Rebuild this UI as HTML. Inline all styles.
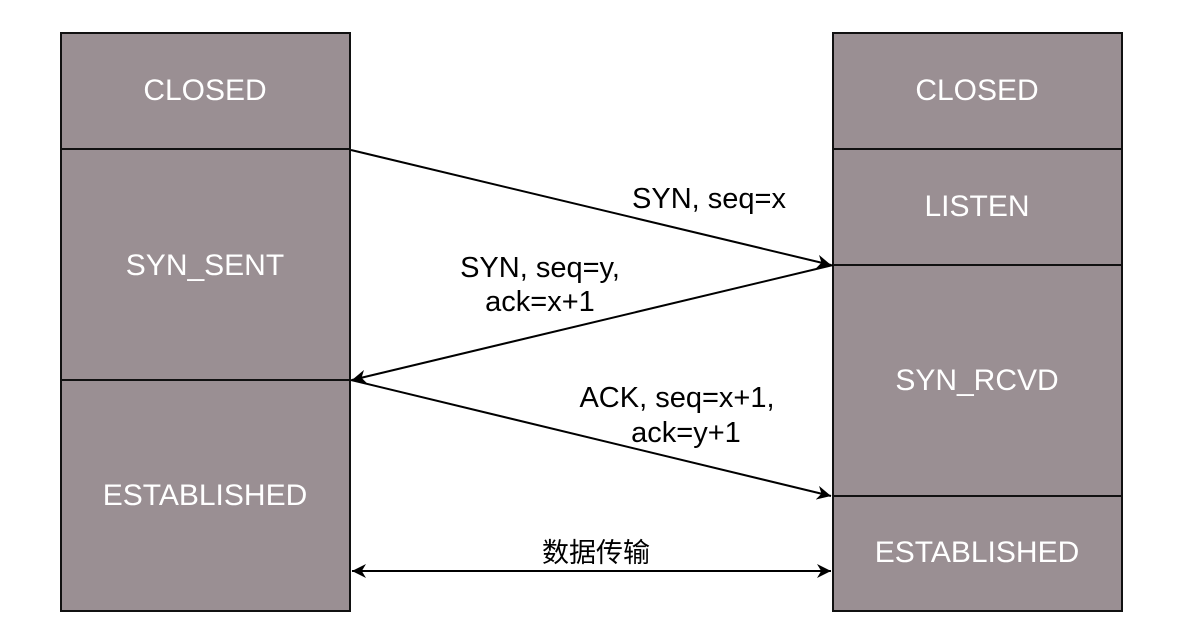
<html><body style="margin:0;background:#fff">
<svg width="1200" height="630" xmlns="http://www.w3.org/2000/svg" font-family="Liberation Sans, Noto Sans CJK SC, sans-serif">
<defs><marker id="a" viewBox="0 0 10 10" refX="10" refY="5" markerWidth="14" markerHeight="14" markerUnits="userSpaceOnUse" orient="auto-start-reverse"><path d="M0,0 L10,5 L0,10 L3,5 z" fill="#000"/></marker></defs>
<g fill="#9a8f93" stroke="#111" stroke-width="2">
<rect x="61" y="33" width="289" height="116"/><rect x="61" y="149" width="289" height="231"/><rect x="61" y="380" width="289" height="231"/>
<rect x="833" y="33" width="289" height="116"/><rect x="833" y="149" width="289" height="116"/><rect x="833" y="265" width="289" height="231"/><rect x="833" y="496" width="289" height="115"/>
</g>
<g fill="#fff" font-size="30" text-anchor="middle">
<text x="205" y="100">CLOSED</text><text x="205" y="275">SYN_SENT</text><text x="205" y="505">ESTABLISHED</text>
<text x="977" y="100">CLOSED</text><text x="977" y="216">LISTEN</text><text x="977" y="390">SYN_RCVD</text><text x="977" y="562">ESTABLISHED</text>
</g>
<g stroke="#000" stroke-width="2" fill="none">
<line x1="351" y1="150" x2="831" y2="265" marker-end="url(#a)"/>
<line x1="833" y1="265" x2="352" y2="380" marker-end="url(#a)"/>
<line x1="351" y1="380" x2="831" y2="496" marker-end="url(#a)"/>
<line x1="352" y1="571" x2="831" y2="571" marker-end="url(#a)" marker-start="url(#a)"/>
</g>
<g fill="#000" font-size="29" text-anchor="middle">
<text x="709" y="208">SYN, seq=x</text>
<text x="540" y="277">SYN, seq=y,</text><text x="540" y="311">ack=x+1</text>
<text x="677" y="407">ACK, seq=x+1,</text><text x="686" y="442">ack=y+1</text>
<text x="596" y="562" font-size="27">数据传输</text>
</g>
</svg>
</body></html>
